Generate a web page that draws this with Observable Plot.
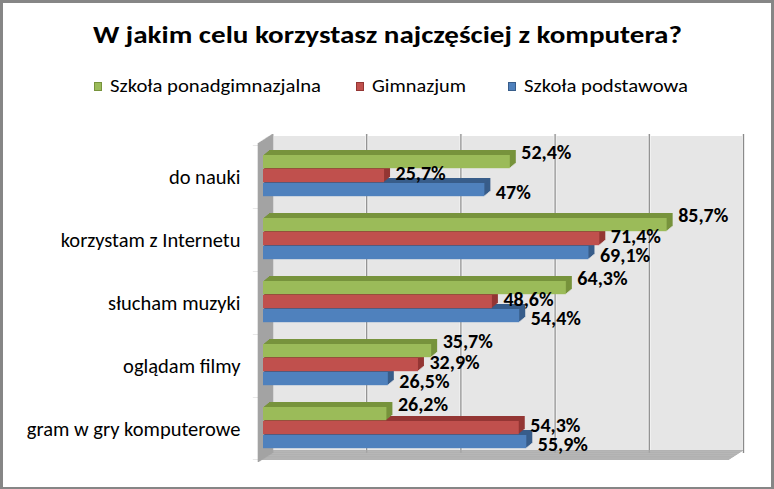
<!DOCTYPE html>
<html>
<head>
<meta charset="utf-8">
<script src="https://cdn.jsdelivr.net/npm/d3@7"></script>
<script src="https://cdn.jsdelivr.net/npm/@observablehq/plot@0.6"></script>
<style>
  body { margin: 0; background: #fff; }
  #wrap { position: relative; width: 774px; height: 489px; overflow: hidden; font-family: Carlito, Calibri, Lato, sans-serif; }
  #chart { position: absolute; left: 0; top: 0; }
  #title { position: absolute; left: 0; width: 774px; top: 20px; text-align: center; font-weight: bold; font-size: 25px; line-height: 30px; color: #000; }
  #title span { display: inline-block; transform-origin: 50% 50%; white-space: nowrap; }
  #legend { position: absolute; top: 75px; left: 0; width: 774px; height: 22px; font-size: 19px; color: #000; }
  .li { position: absolute; top: 0; white-space: nowrap; line-height: 22px; }
  .sw { position: absolute; top: 7px; left: 0; width: 8px; height: 9px; box-sizing: border-box; }
  .lt { position: absolute; top: 0; display: inline-block; transform-origin: 0 50%; white-space: nowrap; }
  #border { position: absolute; left: 0; top: 0; width: 774px; height: 489px; box-sizing: border-box; border: 3px solid #868686; border-bottom-width: 2px; pointer-events: none; }
</style>
</head>
<body>
<div id="wrap">
  <div id="chart"></div>
  <div id="title"><span>W jakim celu korzystasz najczęściej z komputera?</span></div>
  <div id="legend"></div>
  <div id="border"></div>
</div>
<script>
const categories = ["do nauki", "korzystam z Internetu", "słucham muzyki", "oglądam filmy", "gram w gry komputerowe"];
const seriesNames = ["Szkoła ponadgimnazjalna", "Gimnazjum", "Szkoła podstawowa"];
const ponadgimnazjalna = [52.4, 85.7, 64.3, 35.7, 26.2];
const gimnazjum = [25.7, 71.4, 48.6, 32.9, 54.3];
const podstawowa = [47, 69.1, 54.4, 26.5, 55.9];
const xTicks = [0, 20, 40, 60, 80, 100];

const seriesValues = [ponadgimnazjalna, gimnazjum, podstawowa];
const faceColors = ["#9bbb59", "#c0504d", "#4f81bd"];
const darkColors = ["#77933c", "#943634", "#385d8a"];
const legendX = [94, 356, 508];
const legendTextW = [211, 94, 164];

// title: stretch horizontally to the reference width
const tspan = document.querySelector("#title span");
tspan.style.transform = `scaleX(${589 / tspan.getBoundingClientRect().width})`;

// legend
const legend = document.getElementById("legend");
seriesNames.forEach((s, i) => {
  const el = document.createElement("div");
  el.className = "li";
  el.style.left = legendX[i] + "px";
  el.innerHTML = `<span class="sw" style="background:${faceColors[i]};border:1px solid ${darkColors[i]}"></span><span class="lt" style="left:16px">${s}</span>`;
  legend.appendChild(el);
  const t = el.querySelector(".lt");
  t.style.transform = `scaleX(${legendTextW[i] / t.getBoundingClientRect().width})`;
});

const W = 774, H = 489;
const mTop = 143, mBottom = 27, mLeft = 258, mRight = 45;
const band = (H - mTop - mBottom) / categories.length;
const depthX = 14, depthY = -9;
const last = categories[categories.length - 1];

const rows = seriesValues.map((vals, i) => categories.map((c, j) => ({category: c, series: seriesNames[i], value: vals[j]})));

const marks = [];
// back wall
marks.push(Plot.barX(categories, {y: d => d, x1: 0, x2: 100, fill: "#e6e6e6", dx: depthX, dy: depthY}));
marks.push(Plot.ruleX(xTicks, {x: d => d, stroke: "#f4f4f4", strokeWidth: 3, dx: depthX, dy: depthY}));
marks.push(Plot.ruleX(xTicks, {x: d => d, stroke: "#8a8a8a", strokeWidth: 1.2, dx: depthX, dy: depthY}));
// floor
for (let k = 0; k <= depthX; k++) {
  marks.push(Plot.barX([last], {y: d => d, x1: 0, x2: 100, insetTop: band - 1.6, fill: "#a8a8a8", dx: k, dy: k * depthY / depthX}));
}
for (let k = 0; k <= depthX; k++) {
  marks.push(Plot.ruleX(xTicks, {x: d => d, y: () => last, insetTop: band - 1.2, stroke: "#8a8a8a", strokeWidth: 1, dx: k, dy: k * depthY / depthX}));
}
// left wall
for (let k = 0; k <= depthX; k++) {
  marks.push(Plot.ruleX([0], {x: d => d, stroke: "#a4a4a4", strokeWidth: 1.6, dx: k, dy: k * depthY / depthX}));
}
// wall ticks at category boundaries
marks.push(Plot.barX(categories, {y: d => d, x1: -1.1, x2: 0, insetBottom: band - 1, fill: "#8a8a8a"}));
marks.push(Plot.barX([last], {y: d => d, x1: -1.1, x2: 0, insetTop: band - 1, fill: "#8a8a8a"}));

// bars (drawn bottom series first so upper faces cover lower side faces)
const barTop = 10, barH = 14, barDx = 5;
const labelDy = [-24, -3, 16];
for (const i of [2, 1, 0]) {
  const insetTop = barTop + i * barH;
  const insetBottom = band - (barTop + (i + 1) * barH);
  for (let k = 5; k >= 1; k--) {
    marks.push(Plot.barX(rows[i], {y: "category", x: "value", insetTop, insetBottom, fill: darkColors[i], dx: barDx + k * 1.2, dy: -k}));
  }
  marks.push(Plot.barX(rows[i], {y: "category", x: "value", insetTop, insetBottom, fill: faceColors[i], dx: barDx}));
}
for (const i of [2, 1, 0]) {
  marks.push(Plot.text(rows[i], {
    y: "category", x: "value",
    text: d => String(d.value).replace(".", ",") + "%",
    dx: 16, dy: labelDy[i], textAnchor: "start",
    fontWeight: "bold", fontSize: 20, fill: "#000"
  }));
}

const chart = Plot.plot({
  width: W, height: H,
  marginTop: mTop, marginBottom: mBottom, marginLeft: mLeft, marginRight: mRight,
  x: {domain: [0, 100], axis: null},
  y: {domain: categories, padding: 0, tickSize: 0, tickPadding: 18, label: null},
  style: {fontFamily: "Carlito, Calibri, Lato, sans-serif", fontSize: "20.5px", color: "#000", background: "#fff", overflow: "visible"},
  marks
});
document.getElementById("chart").appendChild(chart);
</script>
</body>
</html>
